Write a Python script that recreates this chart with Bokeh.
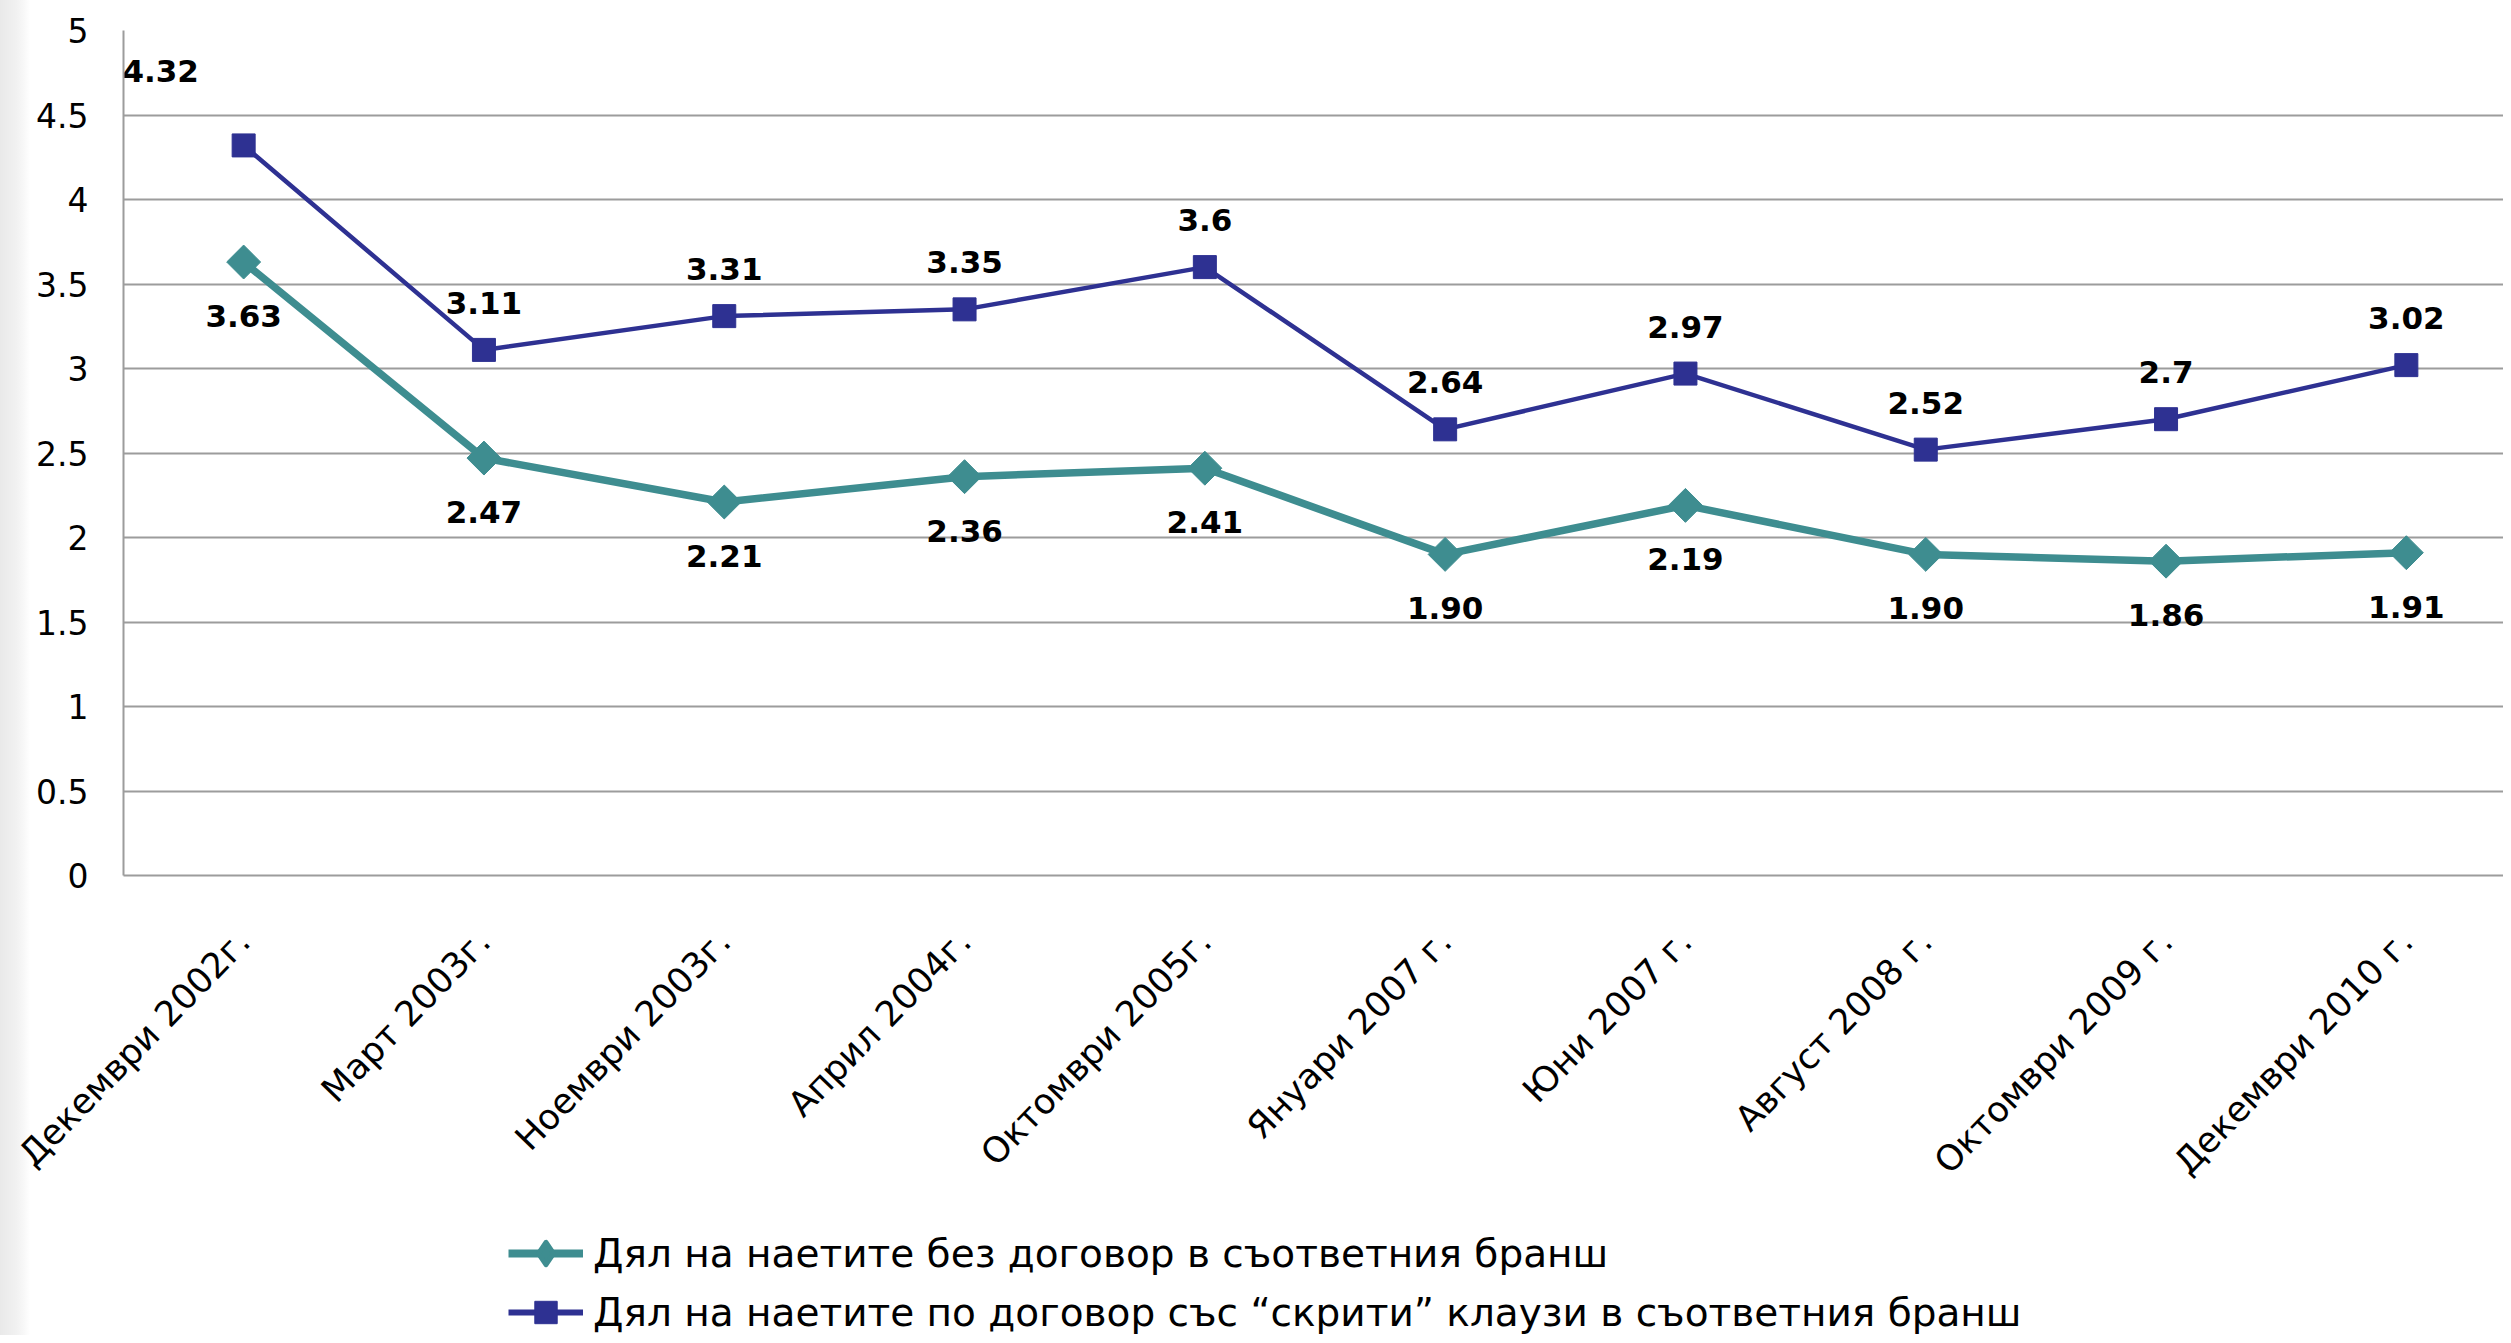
import math
from bokeh.plotting import figure
from bokeh.layouts import column
from bokeh.models import Range1d, FixedTicker, NumeralTickFormatter, Legend, LegendItem, ColumnDataSource
from bokeh.embed import file_html
from bokeh.resources import INLINE
from bokeh.core.properties import value

# ---------------- data ----------------
categories = ["Декември 2002г.", "Март 2003г.", "Ноември 2003г.", "Април 2004г.",
              "Октомври 2005г.", "Януари 2007 г.", "Юни 2007 г.", "Август 2008 г.",
              "Октомври 2009 г.", "Декември 2010 г."]
no_contract = [3.63, 2.47, 2.21, 2.36, 2.41, 1.90, 2.19, 1.90, 1.86, 1.91]
no_contract_labels = ["3.63", "2.47", "2.21", "2.36", "2.41", "1.90", "2.19", "1.90", "1.86", "1.91"]
hidden_clauses = [4.32, 3.11, 3.31, 3.35, 3.6, 2.64, 2.97, 2.52, 2.7, 3.02]
hidden_clauses_labels = ["4.32", "3.11", "3.31", "3.35", "3.6", "2.64", "2.97", "2.52", "2.7", "3.02"]
series_names = ["Дял на наетите без договор в съответния бранш",
                "Дял на наетите по договор със “скрити” клаузи в съответния бранш"]
y_ticks = [0, 0.5, 1, 1.5, 2, 2.5, 3, 3.5, 4, 4.5, 5]

# ---------------- style ----------------
TEAL = "#3E8D90"
NAVY = "#2E3192"
GRID = "#9C9C9C"
FONT = "DejaVu Sans"
W, H = 2503, 1335
LEFT, TOP = 123, 30
FRAME_H = 845
AXIS_B = 350
MAIN_H = TOP + FRAME_H + AXIS_B
LEG_H = H - MAIN_H
CAT_PX = 240.3
STRIP = {"background": "linear-gradient(to right, #e9e9e9 0px, #f1f1f1 16px, #f8f8f8 24px, #ffffff 30px, #ffffff 100%)"}

xs = list(range(len(categories)))
frame_w = W - LEFT
x_end = -0.5 + frame_w / CAT_PX

p = figure(width=W, height=MAIN_H, output_backend="svg", toolbar_location=None,
           x_range=Range1d(-0.5, x_end), y_range=Range1d(0, 5),
           min_border_left=LEFT, min_border_right=0, min_border_top=TOP, min_border_bottom=AXIS_B)
p.outline_line_color = None
p.background_fill_color = "white"
p.border_fill_alpha = 0
p.styles = STRIP

# axes
p.xaxis.ticker = FixedTicker(ticks=xs)
p.xaxis.major_label_overrides = {i: c for i, c in zip(xs, categories)}
p.xaxis.major_label_orientation = 0.80
p.yaxis.ticker = FixedTicker(ticks=y_ticks)
p.yaxis.formatter = NumeralTickFormatter(format="0.[0]")
for ax in (p.xaxis[0], p.yaxis[0]):
    ax.axis_line_color = GRID
    ax.axis_line_width = 2
    ax.major_tick_line_color = None
    ax.minor_tick_line_color = None
    ax.major_tick_out = 0
    ax.major_label_text_font = FONT
    ax.major_label_text_color = "black"
p.yaxis.major_label_text_font_size = "33px"
p.yaxis.major_label_standoff = 35
p.xaxis.major_label_text_font_size = "35px"
p.xaxis.major_label_standoff = 60

p.xgrid.grid_line_color = None
p.ygrid.ticker = FixedTicker(ticks=y_ticks)
p.ygrid.grid_line_color = GRID
p.ygrid.grid_line_width = 2

# series
src1 = ColumnDataSource(dict(x=xs, y=no_contract, t=no_contract_labels))
src2 = ColumnDataSource(dict(x=xs, y=hidden_clauses, t=hidden_clauses_labels))

p.line("x", "y", source=src1, line_color=TEAL, line_width=7.5)
p.scatter("x", "y", source=src1, marker="square", angle=math.pi / 4, size=24,
          fill_color=TEAL, line_color=TEAL)
p.line("x", "y", source=src2, line_color=NAVY, line_width=4.5)
p.scatter("x", "y", source=src2, marker="square", size=23, fill_color=NAVY, line_color=NAVY)

# data labels (pixel offsets from the points)
dx2 = [0.0] * len(xs)
dy2 = [-47.0] * len(xs)
dx2[0], dy2[0] = -83.0, -74.0
src2.data["dx"] = dx2
src2.data["dy"] = dy2
p.text("x", "y", text="t", source=src1, y_offset=54, text_align="center", text_baseline="middle",
       text_font=value(FONT), text_font_size="31px", text_font_style="bold", text_color="black")
p.text("x", "y", text="t", source=src2, x_offset="dx", y_offset="dy", text_align="center",
       text_baseline="middle", text_font=value(FONT), text_font_size="31px",
       text_font_style="bold", text_color="black")

# ---------------- legend strip below ----------------
q = figure(width=W, height=LEG_H, output_backend="svg", toolbar_location=None,
           x_range=Range1d(0, 1), y_range=Range1d(0, 1), x_axis_type=None, y_axis_type=None,
           min_border_left=0, min_border_right=0, min_border_top=0, min_border_bottom=0)
q.outline_line_color = None
q.xgrid.grid_line_color = None
q.ygrid.grid_line_color = None
q.background_fill_alpha = 0
q.border_fill_alpha = 0
q.styles = STRIP

# legend proxies (a point outside the visible range)
ql1 = q.line([-10], [-10], line_color=TEAL, line_width=8)
qm1 = q.scatter([-10], [-10], marker="diamond", fill_color=TEAL, line_color=TEAL, line_width=5,
                line_join="round")
ql2 = q.line([-10], [-10], line_color=NAVY, line_width=6)
qm2 = q.scatter([-10], [-10], marker="square", fill_color=NAVY, line_color=NAVY)

legend = Legend(items=[LegendItem(label=series_names[0], renderers=[ql1, qm1]),
                       LegendItem(label=series_names[1], renderers=[ql2, qm2])],
                location=(385, -5))
legend.orientation = "vertical"
legend.padding = 0
legend.margin = 0
legend.spacing = 3
legend.glyph_width = 75
legend.glyph_height = 56
legend.label_height = 56
legend.label_standoff = 10
legend.label_text_font = FONT
legend.label_text_font_size = "39px"
legend.label_text_color = "black"
legend.label_text_baseline = "middle"
legend.border_line_color = None
legend.background_fill_alpha = 0
q.add_layout(legend, "center")

layout = column(p, q, spacing=0)
open("out.html", "w").write(file_html(layout, INLINE))
